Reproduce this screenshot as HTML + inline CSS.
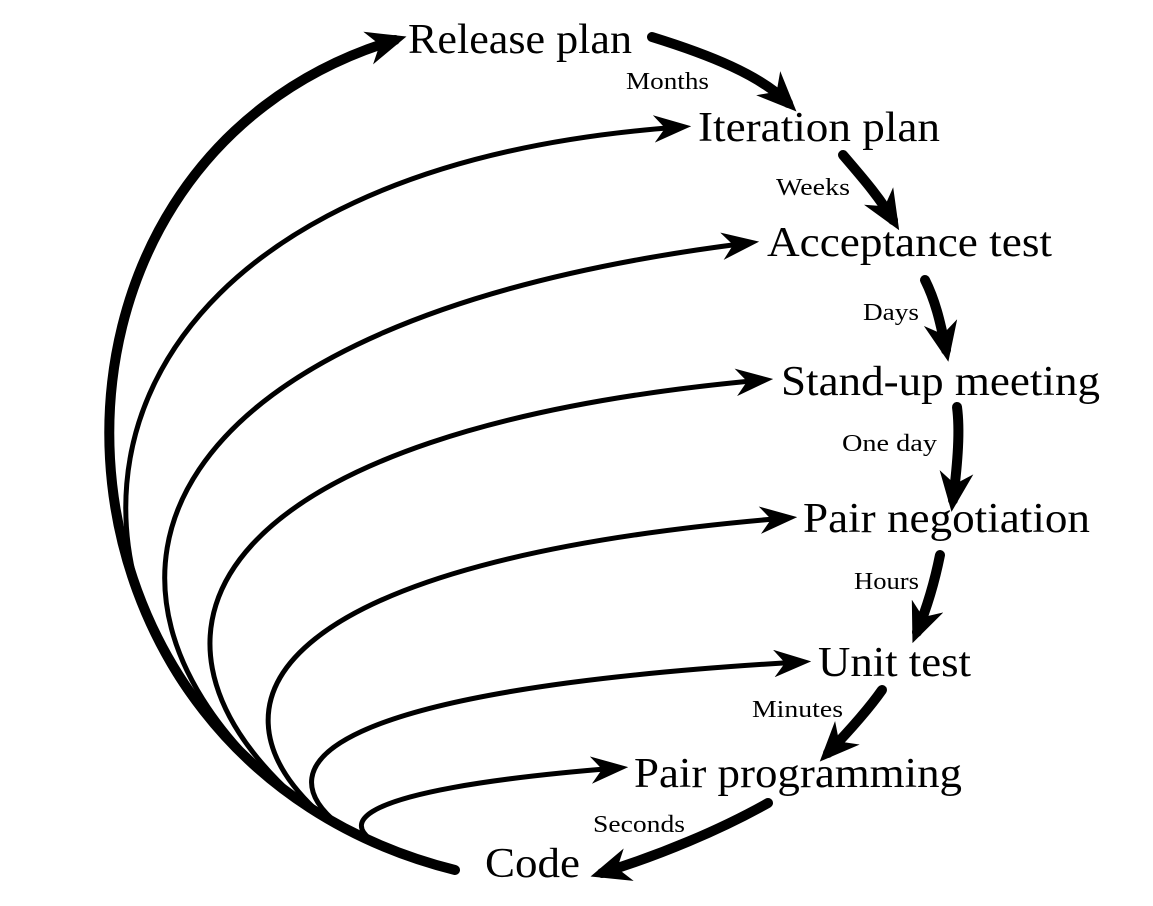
<!DOCTYPE html>
<html><head><meta charset="utf-8"><style>html,body{margin:0;padding:0;background:#fff}svg{display:block}</style></head>
<body>
<svg width="1153" height="906" viewBox="0 0 1153 906" xmlns="http://www.w3.org/2000/svg">
<defs>
<marker id="mk" viewBox="0 0 10 10" refX="7" refY="5" markerWidth="4" markerHeight="3.4" orient="auto" markerUnits="strokeWidth" preserveAspectRatio="none">
<path d="M0,0 L10,5 L0,10 L3,5 z" fill="#000"/></marker>
<marker id="mt" viewBox="0 0 10 10" refX="7" refY="5" markerWidth="7.5" markerHeight="5.5" orient="auto" markerUnits="strokeWidth" preserveAspectRatio="none">
<path d="M0,0 L10,5 L0,10 L3,5 z" fill="#000"/></marker>
</defs>
<g fill="none" stroke="#000" stroke-linecap="round">
<path d="M455,870 C15,760 -5,160 395,40" stroke-width="10" marker-end="url(#mk)"/>
<path d="M250,762 C20,560 80,170 680,127" stroke-width="5" marker-end="url(#mt)"/>
<path d="M275,783 C60,590 130,320 748,243" stroke-width="5" marker-end="url(#mt)"/>
<path d="M295,797 C110,630 210,430 762,380" stroke-width="5" marker-end="url(#mt)"/>
<path d="M315,809 C200,700 275,560 786,518" stroke-width="5" marker-end="url(#mt)"/>
<path d="M338,824 C265,765 320,690 800,662" stroke-width="5" marker-end="url(#mt)"/>
<path d="M440,866 C300,830 340,790 617,768" stroke-width="5" marker-end="url(#mt)"/>
<path d="M652,37 C710,55 760,75 788,103" stroke-width="10" marker-end="url(#mk)"/>
<path d="M843,155 C860,175 878,195 893,220" stroke-width="10" marker-end="url(#mk)"/>
<path d="M925,280 C935,300 940,320 946,350" stroke-width="10" marker-end="url(#mk)"/>
<path d="M957,407 C960,430 958,460 953,500" stroke-width="10" marker-end="url(#mk)"/>
<path d="M940,555 C935,580 928,605 917,632" stroke-width="10" marker-end="url(#mk)"/>
<path d="M882,690 C868,710 850,730 828,753" stroke-width="10" marker-end="url(#mk)"/>
<path d="M768,803 C720,830 660,855 602,873" stroke-width="10" marker-end="url(#mk)"/>
</g>
<g font-family="Liberation Serif, DejaVu Serif, serif" fill="#000">
<g font-size="42">
<text x="408" y="53" textLength="224" lengthAdjust="spacingAndGlyphs">Release plan</text>
<text x="698" y="141" textLength="242" lengthAdjust="spacingAndGlyphs">Iteration plan</text>
<text x="767" y="256" textLength="285" lengthAdjust="spacingAndGlyphs">Acceptance test</text>
<text x="781" y="395" textLength="319" lengthAdjust="spacingAndGlyphs">Stand-up meeting</text>
<text x="803" y="532" textLength="287" lengthAdjust="spacingAndGlyphs">Pair negotiation</text>
<text x="818" y="676" textLength="153" lengthAdjust="spacingAndGlyphs">Unit test</text>
<text x="634" y="787" textLength="328" lengthAdjust="spacingAndGlyphs">Pair programming</text>
<text x="485" y="877" textLength="95" lengthAdjust="spacingAndGlyphs">Code</text>
</g>
<g font-size="24">
<text x="626" y="89" textLength="83" lengthAdjust="spacingAndGlyphs">Months</text>
<text x="776" y="195" textLength="74" lengthAdjust="spacingAndGlyphs">Weeks</text>
<text x="863" y="320" textLength="56" lengthAdjust="spacingAndGlyphs">Days</text>
<text x="842" y="451" textLength="95" lengthAdjust="spacingAndGlyphs">One day</text>
<text x="854" y="589" textLength="65" lengthAdjust="spacingAndGlyphs">Hours</text>
<text x="752" y="717" textLength="91" lengthAdjust="spacingAndGlyphs">Minutes</text>
<text x="593" y="832" textLength="92" lengthAdjust="spacingAndGlyphs">Seconds</text>
</g>
</g>
</svg>
</body></html>
